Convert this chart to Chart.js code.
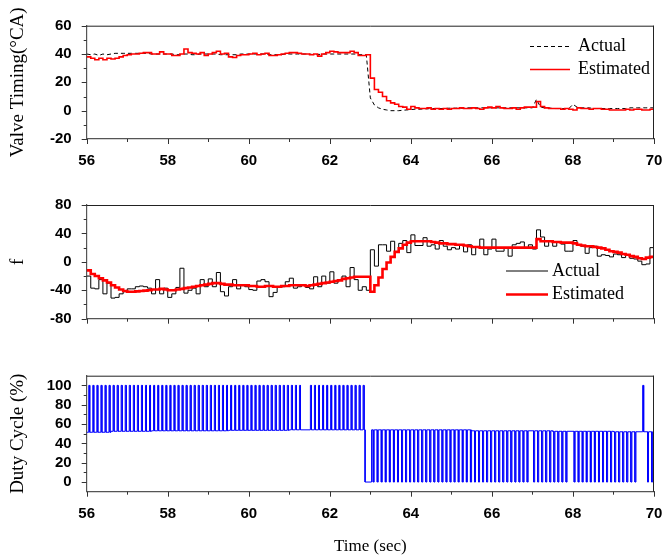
<!DOCTYPE html>
<html><head><meta charset="utf-8">
<script src="https://cdn.jsdelivr.net/npm/chart.js@4.4.1/dist/chart.umd.min.js"></script>
<style>
html,body{margin:0;padding:0;background:#fff;width:665px;height:558px;overflow:hidden;}
.box{position:absolute;left:0;width:665px;}
#b1{top:0;height:175px}
#b2{top:180px;height:150px}
#b3{top:355px;height:203px}
</style></head><body>
<div class="box" id="b1"><canvas id="c1"></canvas></div>
<div class="box" id="b2"><canvas id="c2"></canvas></div>
<div class="box" id="b3"><canvas id="c3"></canvas></div>
<script>
// ---------- data ----------
const T0 = 56, DT = 0.1;   // sample start (s) and sample period (s)
const timeTicks = [56, 58, 60, 62, 64, 66, 68, 70];
const timeMinorTicks = [57, 59, 61, 63, 65, 67, 69];
const vtTicks = [-20, 0, 20, 40, 60];
const vtMinorTicks = [-10, 10, 30, 50];
const fTicks = [-80, -40, 0, 40, 80];
const fMinorTicks = [-60, -20, 20, 60];
const dutyTicks = [0, 20, 40, 60, 80, 100];
const dutyMinorTicks = [10, 30, 50, 70, 90];

const vtActual = [
 40, 39.5, 40, 39, 40, 39.5, 40, 40.5, 40.5, 40.5,
 40.5, 40.5, 40.5, 40.5, 40.5, 40.5, 40, 40, 40, 40,
 40, 40, 39.5, 39.5, 40, 40, 39.5, 39.5, 40, 40,
 40, 40, 40, 39.5, 39.5, 39.5, 39.5, 39.5, 40, 40,
 40, 40, 40, 40, 40, 39.5, 39.5, 39.5, 39.5, 40,
 40, 40, 40, 40, 40, 40, 39.5, 39.5, 40, 40,
 40, 40, 40, 40, 40, 40, 40, 39.5, 39.5, 39.5,
 9, 4, 2, 1, 0.5, 0, 0, 0, 0.3, 0.5,
 0.8, 1, 1, 1.2, 1.3, 1.5, 1.5, 1.5, 1.5, 1.7,
 1.8, 1.8, 1.8, 1.8, 2, 2, 2, 2, 2, 2,
 2, 2, 2, 2, 2, 2, 2, 2, 2, 2,
 2, 8, 2.5, 2, 2, 1.5, 1.5, 1.5, 1.5, 1.5,
 4.5, 2.5, 2, 2, 2, 1.5, 1.5, 1.5, 1.5, 1.5,
 1.5, 1.5, 1.5, 1.5, 2, 2, 2, 2, 2, 2,
 2
];
const vtEstimated = [
 38, 37, 36, 37, 36, 37, 36.5, 37, 38, 39,
 39.5, 40, 40, 40.5, 41, 41, 40, 40, 41.5, 40,
 40, 39, 39, 40, 43.5, 41, 40.5, 40, 41, 39,
 40, 41, 42, 40, 40.5, 38, 37.5, 39, 39.5, 39.5,
 40, 40.5, 39.5, 40, 40.5, 39, 39, 39.5, 40, 40.5,
 41, 41, 40.5, 40, 40, 39.5, 40, 38.5, 40, 41,
 42, 41.5, 41, 41, 41, 42, 41, 39, 39, 39.5,
 23, 15, 13, 10, 7, 5.5, 4.5, 3, 2.5, 1,
 3, 2, 1.5, 1.5, 2, 1, 1.5, 1, 1.5, 1,
 1.5, 1.5, 2, 1.5, 1.5, 2, 1.5, 1, 2, 2.5,
 2, 3, 2, 1.5, 1.5, 2, 1, 2, 2.5, 2.5,
 2.5, 6.5, 3, 2, 1.5, 1.5, 1.5, 1, 1.5, 1,
 0.5, 2, 1.5, 1.5, 1, 1.5, 1.5, 1, 1, 0.5,
 0.5, 0.5, 0.5, 1, 0.5, 1, 1, 0.5, 0.5, 1,
 3.5
];
const fActual = [
 -20, -37, -38, -25, -45, -30, -51, -50, -45, -42,
 -38, -38, -35, -34, -35, -37, -45, -25, -45, -37,
 -50, -45, -36, -9, -44, -40, -37, -45, -25, -35,
 -24, -35, -15, -42, -48, -35, -25, -38, -32, -35,
 -39, -40, -27, -25, -28, -49, -43, -35, -35, -28,
 -23, -37, -35, -33, -36, -38, -21, -35, -20, -30,
 -14, -30, -25, -20, -35, -8, -25, -40, -35, -40,
 17, -6, 24, 24, 15, 29, 14, 26, 30, 13,
 38, 23, 23, 34, 22, 24, 18, 30, 22, 17,
 20, 18, 23, 14, 24, 10, 21, 32, 10, 18,
 32, 15, 15, 20, 8, 24, 26, 28, 20, 24,
 18, 45, 35, 22, 30, 22, 28, 25, 15, 15,
 30, 23, 22, 12, 20, 22, 8, 10, 9, 7,
 11, 10, 6, 9, 5, 4, 1, -4, -3, 20,
 28
];
const fEstimated = [
 -12, -17, -20, -23, -26, -29, -33, -36, -39, -41,
 -42, -42, -41.5, -41, -40.5, -40, -39, -39, -38, -39,
 -40, -40, -39, -38, -37, -36, -35, -34, -33, -32,
 -31, -30, -30, -31, -32, -32, -33, -33, -33, -33,
 -34, -34, -35, -35, -34, -34, -35, -35, -34, -34,
 -33, -33, -33, -33, -34, -33, -32, -31, -30, -29,
 -28, -27, -26, -24, -23, -22, -21, -21, -21, -21,
 -42, -33, -22, -10, -1, 7, 14, 19, 24, 27,
 29, 29, 29, 29, 29, 28, 27, 26, 26, 25,
 25, 24, 24, 23, 22, 21, 21, 20, 20, 20,
 20, 20, 20, 20, 20, 20, 20, 20, 20, 20,
 20, 32, 29, 29, 29, 28, 28, 27, 27, 27,
 26, 24, 23, 22, 22, 21, 20, 19, 17, 15,
 14, 13, 11, 10, 8, 7, 5, 4, 6, 7,
 7
];
// duty cycle: times (s) of the short pulses up to 100 % and down to 0 %
const dutyUpPulses = [
 56.05, 56.15, 56.25, 56.35, 56.45, 56.55, 56.65, 56.75, 56.85, 56.95,
 57.05, 57.15, 57.25, 57.35, 57.45, 57.55, 57.65, 57.75, 57.85, 57.95,
 58.05, 58.15, 58.25, 58.35, 58.45, 58.55, 58.65, 58.75, 58.85, 58.95,
 59.05, 59.15, 59.25, 59.35, 59.45, 59.55, 59.65, 59.75, 59.85, 59.95,
 60.05, 60.15, 60.25, 60.35, 60.45, 60.55, 60.65, 60.75, 60.85, 60.95,
 61.05, 61.15, 61.25,
 61.52, 61.62, 61.72, 61.82, 61.92, 62.02, 62.12, 62.22, 62.32, 62.42,
 62.52, 62.62, 62.72, 62.82,
 69.72
];
const dutyDownPulses = [
 63.07, 63.17, 63.27, 63.37, 63.47, 63.57, 63.67, 63.77, 63.87, 63.97,
 64.07, 64.17, 64.27, 64.37, 64.47, 64.57, 64.67, 64.77, 64.87, 64.97,
 65.07, 65.17, 65.27, 65.37, 65.47, 65.57, 65.67, 65.77, 65.87, 65.97,
 66.07, 66.17, 66.27, 66.37, 66.47, 66.57, 66.67, 66.77, 66.87,
 67.03, 67.13, 67.23, 67.33, 67.43, 67.53, 67.63, 67.73, 67.83,
 68.03, 68.13, 68.23, 68.33, 68.43, 68.53, 68.63, 68.73, 68.83, 68.93,
 69.03, 69.13, 69.23, 69.33, 69.43, 69.53,
 69.84, 69.94
];
// [time, level] where the resting duty level changes
const dutyBaseSteps = [
 [56.0, 51.5], [56.6, 52.5], [57.6, 53], [59.5, 53.5], [61.0, 54],
 [62.87, 0], [63.03, 54], [65.5, 53], [67.5, 52.5], [69.0, 52]
];

// ---------- build ----------
const toXY = arr => arr.map((v, i) => ({ x: +(T0 + i * DT).toFixed(2), y: v }));

function buildDuty() {
  const PW = 0.025;
  const ev = [];
  dutyBaseSteps.forEach(([t, v]) => ev.push({ t, base: true, v }));
  dutyUpPulses.forEach(t => ev.push({ t, base: false, v: 100 }));
  dutyDownPulses.forEach(t => ev.push({ t, base: false, v: 0 }));
  ev.sort((a, b) => a.t - b.t);
  let cur = dutyBaseSteps[0][1];
  const pts = [{ x: 56, y: cur }];
  for (const e of ev) {
    if (e.base) { pts.push({ x: e.t, y: cur }); cur = e.v; pts.push({ x: e.t, y: cur }); }
    else pts.push({ x: e.t, y: cur }, { x: e.t, y: e.v }, { x: e.t + PW, y: e.v }, { x: e.t + PW, y: cur });
  }
  pts.push({ x: 70, y: cur });
  return pts;
}

const SANS = '"Liberation Sans", Arial, sans-serif';
const SERIF = '"Liberation Serif", "Times New Roman", serif';

function xAxis(dims, showLabels, title) {
  return {
    type: 'linear', min: 56, max: 70,
    afterBuildTicks: s => { s.ticks = timeTicks.map(v => ({ value: v })); },
    afterFit: s => { s.height = dims.xh; },
    grid: { drawOnChartArea: false, drawTicks: true, tickLength: 13, tickColor: 'rgba(0,0,0,0)' },
    border: { display: true, color: '#555', width: 1.2 },
    ticks: { display: showLabels, padding: 0, color: '#000', autoSkip: false, maxRotation: 0,
      font: { family: SANS, size: 15, weight: 'bold' }, callback: v => String(v) },
    title: title ? { display: true, text: title, color: '#000',
      font: { family: SERIF, size: 17 }, padding: { top: 0, bottom: 1 } } : { display: false }
  };
}
function yAxis(dims, min, max, ticks, title, size) {
  return {
    type: 'linear', min, max,
    afterBuildTicks: s => { s.ticks = ticks.map(v => ({ value: v })); },
    afterFit: s => { s.width = dims.yw; },
    grid: { drawOnChartArea: false, drawTicks: true, tickLength: 15, tickColor: 'rgba(0,0,0,0)' },
    border: { display: true, color: '#555', width: 1.2 },
    ticks: { padding: 0, color: '#000', font: { family: SANS, size, weight: 'bold' },
      callback: v => String(v) },
    title: { display: true, text: title, color: '#000',
      font: { family: SERIF, size: 19 }, padding: { top: 7, bottom: 0 } }
  };
}

const decor = {
  id: 'decor',
  afterDraw(chart, args, o) {
    const { ctx, chartArea: a, scales } = chart;
    ctx.save();
    ctx.lineWidth = 1;
    ctx.strokeStyle = '#222';
    ctx.beginPath();
    ctx.moveTo(a.left, a.top + 0.5); ctx.lineTo(a.right, a.top + 0.5);
    ctx.moveTo(a.right - 0.5, a.top); ctx.lineTo(a.right - 0.5, a.bottom);
    ctx.stroke();
    ctx.strokeStyle = '#333';
    ctx.beginPath();
    const xt = (vals, len) => vals.forEach(v => {
      const px = Math.round(scales.x.getPixelForValue(v)) + 0.5;
      ctx.moveTo(px, a.bottom); ctx.lineTo(px, a.bottom + len);
    });
    const yt = (vals, len) => vals.forEach(v => {
      const py = Math.round(scales.y.getPixelForValue(v)) + 0.5;
      ctx.moveTo(a.left, py); ctx.lineTo(a.left - len, py);
    });
    xt(o.xMajor || [], 5); xt(o.xMinor || [], 3);
    yt(o.yMajor || [], 5); yt(o.yMinor || [], 3);
    ctx.stroke();
    (o.legend || []).forEach(it => {
      const ds = chart.data.datasets[it.ds];
      ctx.beginPath();
      ctx.strokeStyle = ds.borderColor;
      ctx.lineWidth = ds.borderWidth;
      ctx.setLineDash(ds.borderDash || []);
      ctx.moveTo(it.x1, it.y); ctx.lineTo(it.x2, it.y);
      ctx.stroke();
      ctx.setLineDash([]);
      ctx.fillStyle = '#000';
      ctx.font = '18px ' + SERIF;
      ctx.textBaseline = 'middle';
      ctx.textAlign = 'left';
      ctx.fillText(ds.label, it.tx, it.y);
    });
    ctx.restore();
  }
};

function baseOptions(dims, padTop) {
  return {
    responsive: true, maintainAspectRatio: false, animation: false, events: [],
    devicePixelRatio: 1,
    layout: { padding: { top: padTop, right: 11, left: 0, bottom: 0 } },
    elements: { point: { radius: 0 }, line: { tension: 0 } }
  };
}

// keep each plot area at the pixel box measured on the reference
function pin(chart, cfg, dims, target) {
  for (let k = 0; k < 5; k++) {
    const x = chart.scales.x, y = chart.scales.y;
    const dl = x.getPixelForValue(x.min) - target.left;
    const dr = x.getPixelForValue(x.max) - target.right;
    const dt = y.getPixelForValue(y.max) - target.top;
    const db = y.getPixelForValue(y.min) - target.bottom;
    if (Math.abs(dl) + Math.abs(dr) + Math.abs(dt) + Math.abs(db) < 0.2) break;
    const p = cfg.options.layout.padding;
    dims.yw -= dl;
    p.right = Math.max(0, p.right + dr);
    p.top = Math.max(0, p.top - dt);
    dims.xh = Math.max(0, dims.xh + db);
    chart.update('none');
  }
}

function makeChart(id, datasets, dims, padTop, xAx, yAx, decorOpts, target) {
  const opts = baseOptions(dims, padTop);
  opts.scales = { x: xAx, y: yAx };
  opts.plugins = { legend: { display: false }, tooltip: { enabled: false }, decor: decorOpts };
  const cfg = { type: 'line', data: { datasets }, options: opts, plugins: [decor] };
  const ch = new Chart(document.getElementById(id), cfg);
  pin(ch, cfg, dims, target);
  return ch;
}

const d1 = { xh: 36, yw: 86.7 };
makeChart('c1', [
    { label: 'Actual', data: toXY(vtActual), borderColor: '#000', borderWidth: 1, borderDash: [4, 3], order: 1 },
    { label: 'Estimated', data: toXY(vtEstimated), borderColor: '#ff0000', borderWidth: 1.6, stepped: true, order: 0 }
  ], d1, 25.7,
  xAxis(d1, true, null), yAxis(d1, -20, 60, vtTicks, 'Valve Timing(°CA)', 15),
  { xMajor: timeTicks, xMinor: timeMinorTicks, yMajor: vtTicks, yMinor: vtMinorTicks,
    legend: [ { ds: 0, x1: 530, x2: 570, tx: 578, y: 46.5 },
              { ds: 1, x1: 530, x2: 570, tx: 578, y: 69.5 } ] },
  { left: 86.7, right: 654, top: 25.7, bottom: 139 });

const d2 = { xh: 11.3, yw: 86.7 };
makeChart('c2', [
    { label: 'Actual', data: toXY(fActual), borderColor: '#000', borderWidth: 1, stepped: true, order: 1 },
    { label: 'Estimated', data: toXY(fEstimated), borderColor: '#ff0000', borderWidth: 2.6, stepped: true, order: 0 }
  ], d2, 25,
  xAxis(d2, false, null), yAxis(d2, -80, 80, fTicks, 'f', 15),
  { xMajor: timeTicks, xMinor: timeMinorTicks, yMajor: fTicks, yMinor: fMinorTicks,
    legend: [ { ds: 0, x1: 506, x2: 548, tx: 552, y: 91 },
              { ds: 1, x1: 506, x2: 548, tx: 552, y: 114.5 } ] },
  { left: 86.7, right: 654, top: 25, bottom: 138.7 });

const d3 = { xh: 66.3, yw: 86.7 };
makeChart('c3', [
    { label: 'Duty Cycle', data: buildDuty(), borderColor: '#0000ff', borderWidth: 1 }
  ], d3, 20.7,
  xAxis(d3, true, 'Time (sec)'), yAxis(d3, -10, 110, dutyTicks, 'Duty Cycle (%)', 15),
  { xMajor: timeTicks, xMinor: timeMinorTicks, yMajor: dutyTicks, yMinor: dutyMinorTicks, legend: [] },
  { left: 86.7, right: 654, top: 20.7, bottom: 136.7 });
</script>
</body></html>
